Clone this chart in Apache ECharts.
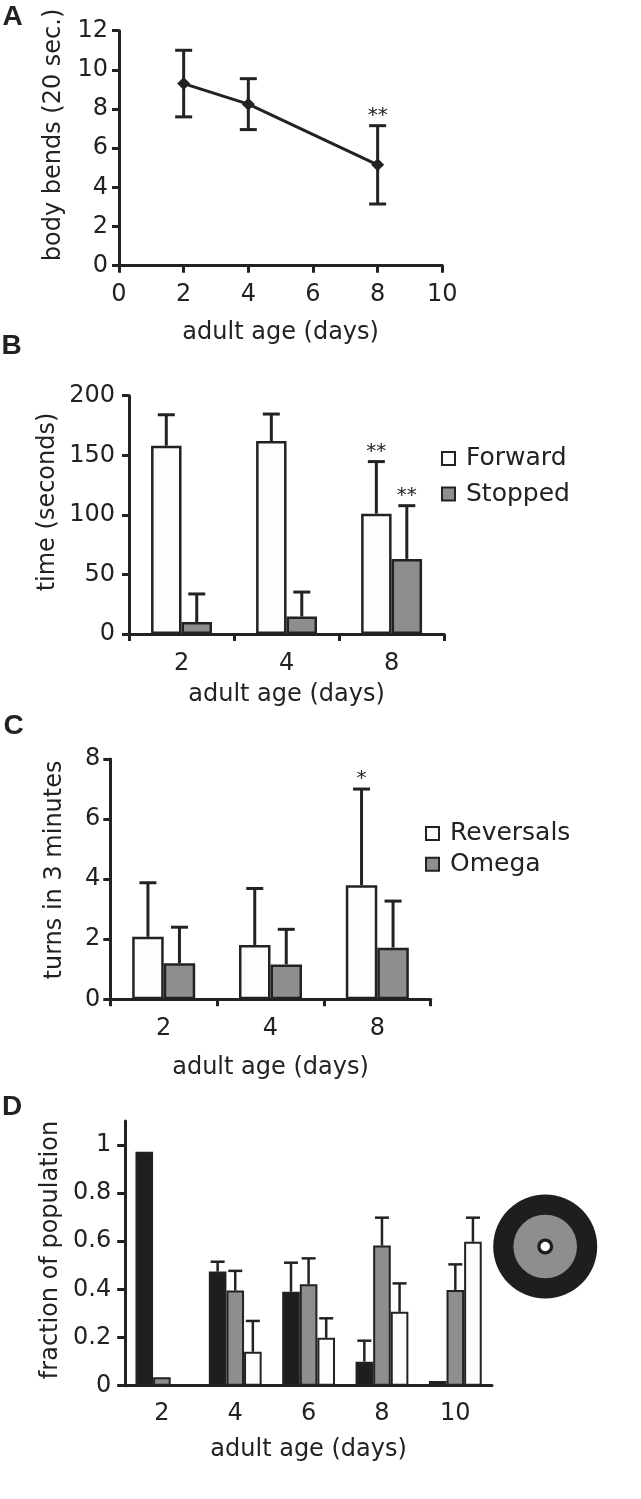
<!DOCTYPE html>
<html><head><meta charset="utf-8">
<script src="https://cdn.jsdelivr.net/npm/echarts@6.0.0/dist/echarts.min.js"></script>
<style>html,body{margin:0;padding:0;background:#fff}#c{width:641px;height:1499px}</style>
</head><body><div id="c"></div>
<script>
// ---------- Panel A: body bends ----------
const aDays = [2, 4, 8];
const aBends = [9.3, 8.25, 5.15];
const aBendsErr = [1.7, 1.3, 2.0];
const aSig = ['', '', '**'];
// ---------- Panel B: time forward / stopped ----------
const bAges = ['2', '4', '8'];
const bForward = [158, 162, 101];
const bForwardErr = [26, 22.6, 43.7];
const bStopped = [10, 14.6, 63];
const bStoppedErr = [23.6, 20.6, 44.7];
const bForwardSig = ['', '', '**'];
const bStoppedSig = ['', '', '**'];
// ---------- Panel C: turns ----------
const cAges = ['2', '4', '8'];
const cReversals = [2.08, 1.81, 3.8];
const cReversalsErr = [1.8, 1.88, 3.2];
const cOmega = [1.2, 1.16, 1.72];
const cOmegaErr = [1.2, 1.17, 1.55];
const cReversalsSig = ['', '', '*'];
// ---------- Panel D: fraction of population ----------
const dAges = ['2', '4', '6', '8', '10'];
const dOuter = [0.972, 0.474, 0.39, 0.1, 0.02];
const dOuterErr = [0, 0.041, 0.121, 0.087, 0];
const dMiddle = [0.035, 0.395, 0.421, 0.582, 0.398];
const dMiddleErr = [0, 0.082, 0.108, 0.116, 0.106];
const dCenter = [0, 0.141, 0.199, 0.307, 0.598];
const dCenterErr = [0, 0.128, 0.081, 0.118, 0.1];
const dTicks = [0, 0.2, 0.4, 0.6, 0.8, 1];

const FONT = '"DejaVu Sans", sans-serif';
const INK = '#222';
const WHITE = '#fdfdfd', GREY = '#8e8e8e', BLACK = '#1e1e1e';

function errSeries(axis, xs, means, errs, sigs, opt) {
  return {
    type: 'custom', xAxisIndex: axis, yAxisIndex: axis, z: 5, silent: true,
    data: means.map((m, i) => [xs[i], m, errs[i]]),
    renderItem: function (params, api) {
      const x = api.value(0), m = api.value(1), e = api.value(2);
      const s = sigs ? sigs[params.dataIndex] : '';
      const p = api.coord([x, m]);
      let cx = p[0];
      if (opt.n) {
        const band = api.size([1, 0])[0];
        const bw = band * opt.frac;
        cx += (opt.slot - (opt.n - 1) / 2) * bw;
      }
      const children = [];
      const st = { stroke: INK, lineWidth: opt.lw };
      const topY = api.coord([x, m + (e || 0)])[1];
      if (e) {
        const botY = opt.both ? api.coord([x, m - e])[1] : p[1];
        children.push({ type: 'line', shape: { x1: cx, y1: topY, x2: cx, y2: botY }, style: st });
        children.push({ type: 'line', shape: { x1: cx - opt.cap / 2, y1: topY, x2: cx + opt.cap / 2, y2: topY }, style: st });
        if (opt.both) children.push({ type: 'line', shape: { x1: cx - opt.cap / 2, y1: botY, x2: cx + opt.cap / 2, y2: botY }, style: st });
      }
      if (s) {
        children.push({ type: 'text', x: cx, y: topY - 10, style: { text: s, font: '20px ' + FONT, fill: INK, align: 'center', verticalAlign: 'middle' } });
      }
      return { type: 'group', children: children };
    }
  };
}

const axisLineStyle = { show: true, lineStyle: { color: INK, width: 3 } };
const tickStyle = (len) => ({ show: true, length: len, lineStyle: { color: INK, width: 3 } });
const lbl = (margin, size) => ({ color: INK, fontSize: size || 24, fontFamily: FONT, margin: margin });
const nameStyle = { color: INK, fontSize: 24, fontFamily: FONT };
const letterFont = 'bold 28px "Liberation Sans", Arial, sans-serif';

const grids = [
  { left: 119, top: 30.7, width: 323.3, height: 235 },
  { left: 129, top: 395.7, width: 315.1, height: 238.3 },
  { left: 110.3, top: 759, width: 320.4, height: 240.3 },
  { left: 125.2, top: 1120.9, width: 366.8, height: 264.8 }
].map(g => Object.assign({ outerBoundsMode: 'none', containLabel: false }, g));

const legendText = { color: INK, fontSize: 25, fontFamily: FONT, lineHeight: 25, padding: [0, 0, 0, 6] };

const option = {
  animation: false,
  backgroundColor: '#fff',
  textStyle: { fontFamily: FONT },
  grid: grids,
  xAxis: [
    { type: 'value', gridIndex: 0, min: 0, max: 10, interval: 2, axisLine: axisLineStyle, axisTick: tickStyle(7),
      axisLabel: lbl(17), splitLine: { show: false }, name: 'adult age (days)', nameLocation: 'middle', nameGap: 55,
      nameMoveOverlap: false, nameTextStyle: nameStyle },
    { type: 'category', gridIndex: 1, data: bAges, axisLine: axisLineStyle, axisTick: tickStyle(7),
      axisLabel: lbl(18), name: 'adult age (days)', nameLocation: 'middle', nameGap: 49, nameMoveOverlap: false, nameTextStyle: nameStyle },
    { type: 'category', gridIndex: 2, data: cAges, axisLine: axisLineStyle, axisTick: tickStyle(7),
      axisLabel: lbl(17), name: 'adult age (days)', nameLocation: 'middle', nameGap: 56, nameMoveOverlap: false, nameTextStyle: nameStyle },
    { type: 'category', gridIndex: 3, data: dAges, axisLine: axisLineStyle, axisTick: { show: false },
      axisLabel: lbl(16), name: 'adult age (days)', nameLocation: 'middle', nameGap: 52, nameMoveOverlap: false, nameTextStyle: nameStyle }
  ],
  yAxis: [
    { type: 'value', gridIndex: 0, min: 0, max: 12, interval: 2, axisLine: axisLineStyle, axisTick: tickStyle(7),
      axisLabel: lbl(11), splitLine: { show: false } },
    { type: 'value', gridIndex: 1, min: 0, max: 200, interval: 50, axisLine: axisLineStyle, axisTick: tickStyle(7),
      axisLabel: lbl(14), splitLine: { show: false } },
    { type: 'value', gridIndex: 2, min: 0, max: 8, interval: 2, axisLine: axisLineStyle, axisTick: tickStyle(7),
      axisLabel: lbl(10), splitLine: { show: false } },
    { type: 'value', gridIndex: 3, min: 0, max: 1.1, axisLine: axisLineStyle,
      axisTick: { show: true, length: 8, lineStyle: { color: INK, width: 3 }, customValues: dTicks },
      axisLabel: Object.assign(lbl(14), { customValues: dTicks }), splitLine: { show: false } }
  ],
  legend: [
    { data: ['Forward', 'Stopped'], orient: 'vertical', left: 441, top: 446, padding: 0, itemWidth: 13, itemHeight: 13, itemGap: 10.5,
      icon: 'rect', textStyle: legendText },
    { data: ['Reversals', 'Omega'], orient: 'vertical', left: 425, top: 821, padding: 0, itemWidth: 13, itemHeight: 13, itemGap: 5.7,
      icon: 'rect', textStyle: legendText }
  ],
  series: [
    // A
    { type: 'line', name: 'body bends', xAxisIndex: 0, yAxisIndex: 0, data: aDays.map((d, i) => [d, aBends[i]]),
      symbol: 'diamond', symbolSize: [13, 13], lineStyle: { color: INK, width: 3 }, itemStyle: { color: INK }, z: 6 },
    errSeries(0, aDays, aBends, aBendsErr, aSig, { both: true, cap: 17, lw: 3 }),
    // B
    { type: 'bar', name: 'Forward', xAxisIndex: 1, yAxisIndex: 1, data: bForward, barWidth: '29%', barGap: '0%',
      itemStyle: { color: WHITE, borderColor: INK, borderWidth: 2.5 } },
    { type: 'bar', name: 'Stopped', xAxisIndex: 1, yAxisIndex: 1, data: bStopped, barWidth: '29%', barGap: '0%',
      itemStyle: { color: GREY, borderColor: INK, borderWidth: 2.5 } },
    errSeries(1, [0, 1, 2], bForward, bForwardErr, bForwardSig, { n: 2, slot: 0, frac: 0.29, cap: 17, lw: 3 }),
    errSeries(1, [0, 1, 2], bStopped, bStoppedErr, bStoppedSig, { n: 2, slot: 1, frac: 0.29, cap: 17, lw: 3 }),
    // C
    { type: 'bar', name: 'Reversals', xAxisIndex: 2, yAxisIndex: 2, data: cReversals, barWidth: '29.5%', barGap: '0%',
      itemStyle: { color: WHITE, borderColor: INK, borderWidth: 2.5 } },
    { type: 'bar', name: 'Omega', xAxisIndex: 2, yAxisIndex: 2, data: cOmega, barWidth: '29.5%', barGap: '0%',
      itemStyle: { color: GREY, borderColor: INK, borderWidth: 2.5 } },
    errSeries(2, [0, 1, 2], cReversals, cReversalsErr, cReversalsSig, { n: 2, slot: 0, frac: 0.295, cap: 17, lw: 3 }),
    errSeries(2, [0, 1, 2], cOmega, cOmegaErr, null, { n: 2, slot: 1, frac: 0.295, cap: 17, lw: 3 }),
    // D
    { type: 'bar', name: 'outer', xAxisIndex: 3, yAxisIndex: 3, data: dOuter, barWidth: '24%', barGap: '0%',
      itemStyle: { color: BLACK, borderColor: INK, borderWidth: 2 } },
    { type: 'bar', name: 'middle', xAxisIndex: 3, yAxisIndex: 3, data: dMiddle, barWidth: '24%', barGap: '0%',
      itemStyle: { color: GREY, borderColor: INK, borderWidth: 2 } },
    { type: 'bar', name: 'center', xAxisIndex: 3, yAxisIndex: 3, data: dCenter, barWidth: '24%', barGap: '0%',
      itemStyle: { color: WHITE, borderColor: INK, borderWidth: 2 } },
    errSeries(3, [0, 1, 2, 3, 4], dOuter, dOuterErr, null, { n: 3, slot: 0, frac: 0.24, cap: 14, lw: 2.5 }),
    errSeries(3, [0, 1, 2, 3, 4], dMiddle, dMiddleErr, null, { n: 3, slot: 1, frac: 0.24, cap: 14, lw: 2.5 }),
    errSeries(3, [0, 1, 2, 3, 4], dCenter, dCenterErr, null, { n: 3, slot: 2, frac: 0.24, cap: 14, lw: 2.5 })
  ],
  graphic: [
    { type: 'text', x: 12.5, y: 17.5, style: { text: 'A', font: letterFont, fill: INK, align: 'center', verticalAlign: 'middle' } },
    { type: 'text', x: 11.5, y: 346, style: { text: 'B', font: letterFont, fill: INK, align: 'center', verticalAlign: 'middle' } },
    { type: 'text', x: 13.5, y: 726, style: { text: 'C', font: letterFont, fill: INK, align: 'center', verticalAlign: 'middle' } },
    { type: 'text', x: 12, y: 1107, style: { text: 'D', font: letterFont, fill: INK, align: 'center', verticalAlign: 'middle' } },
    { type: 'text', x: 54, y: 135, rotation: Math.PI / 2, style: { text: 'body bends (20 sec.)', font: '24px ' + FONT, fill: INK, align: 'center', verticalAlign: 'middle' } },
    { type: 'text', x: 48, y: 502, rotation: Math.PI / 2, style: { text: 'time (seconds)', font: '24px ' + FONT, fill: INK, align: 'center', verticalAlign: 'middle' } },
    { type: 'text', x: 55, y: 870, rotation: Math.PI / 2, style: { text: 'turns in 3 minutes', font: '24px ' + FONT, fill: INK, align: 'center', verticalAlign: 'middle' } },
    { type: 'text', x: 51, y: 1250, rotation: Math.PI / 2, style: { text: 'fraction of population', font: '24px ' + FONT, fill: INK, align: 'center', verticalAlign: 'middle' } },
    { type: 'circle', shape: { cx: 545.2, cy: 1246.5, r: 52 }, style: { fill: BLACK } },
    { type: 'circle', shape: { cx: 545.2, cy: 1246.5, r: 31.8 }, style: { fill: GREY } },
    { type: 'circle', shape: { cx: 545.2, cy: 1246.5, r: 8 }, style: { fill: BLACK } },
    { type: 'circle', shape: { cx: 545.2, cy: 1246.5, r: 4.7 }, style: { fill: '#fff' } }
  ]
};
const chart = echarts.init(document.getElementById('c'), null, { renderer: 'canvas' });
chart.setOption(option);
</script></body></html>
